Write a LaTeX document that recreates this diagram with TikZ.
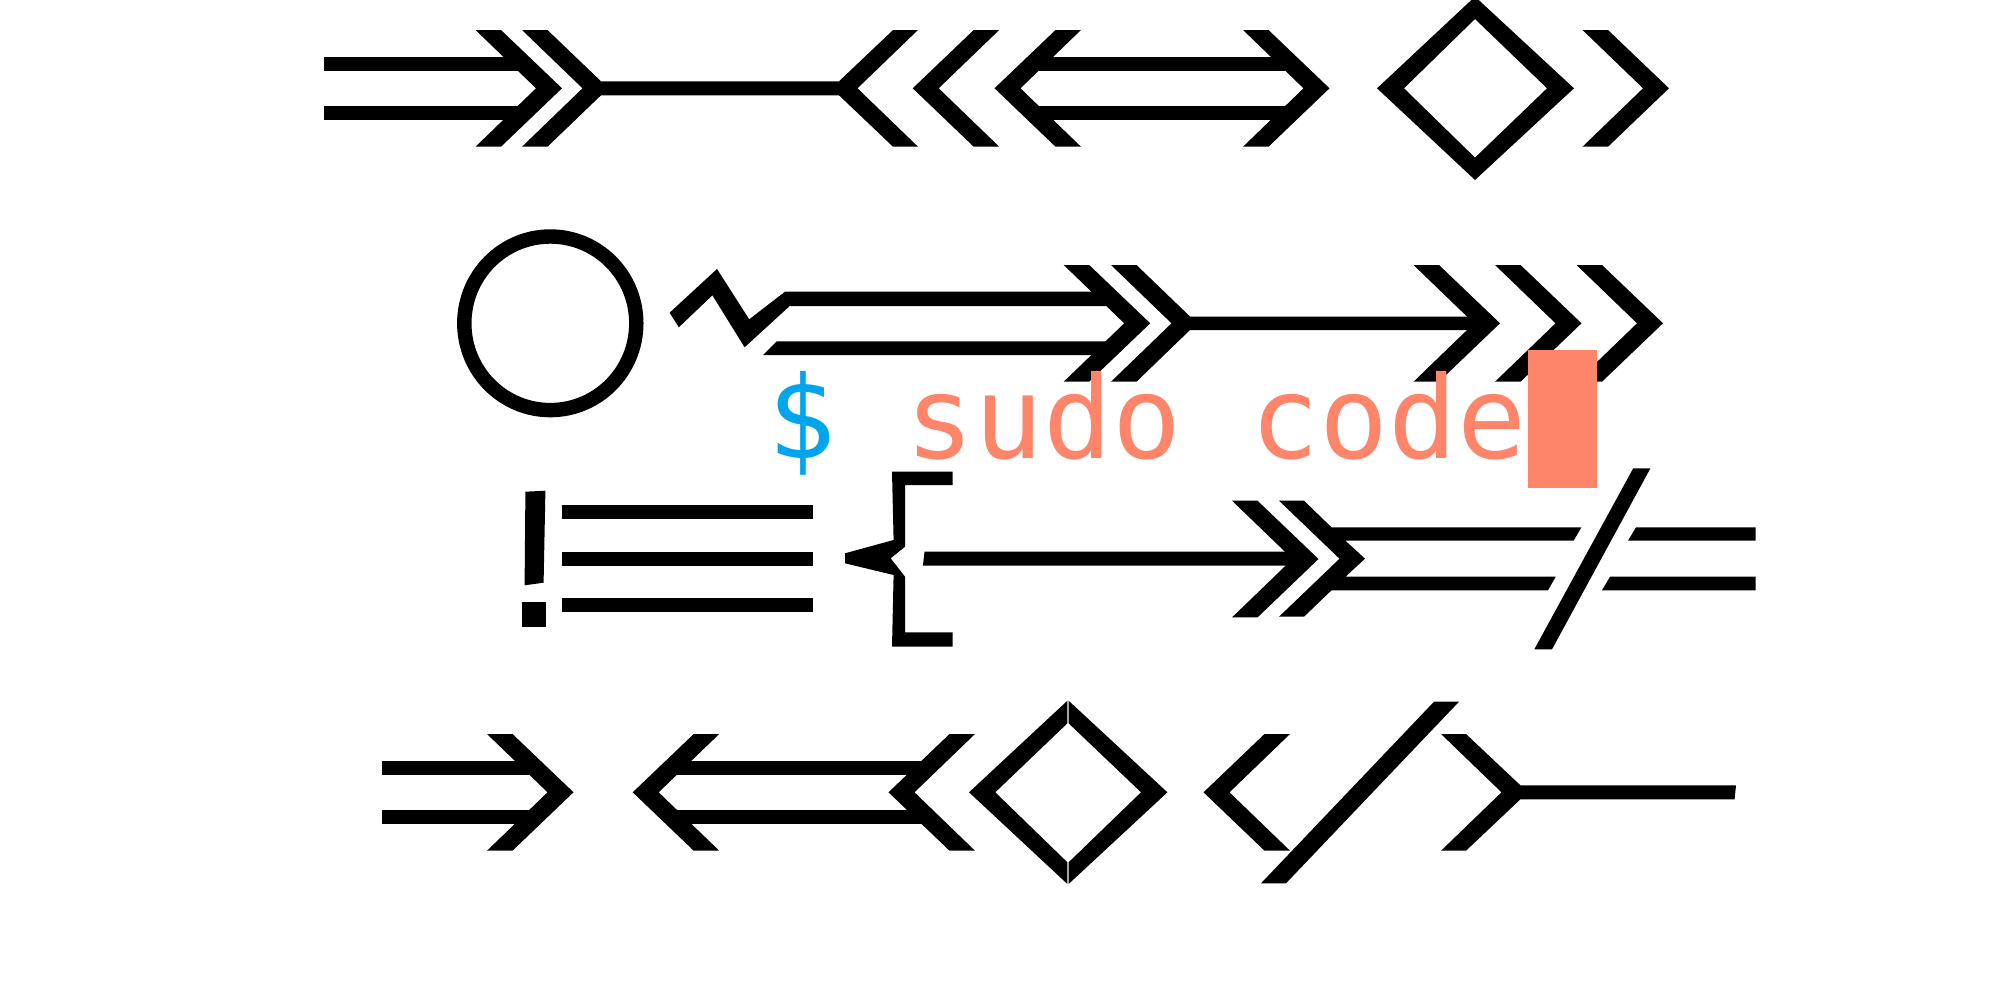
\documentclass[tikz,border=0pt]{standalone}
\usepackage{fontspec}
\usepackage{tikz}
\newfontfamily\promptfont{DejaVu Sans Mono}
\definecolor{promptblue}{RGB}{0,165,236}
\definecolor{cmdsalmon}{RGB}{255,133,106}
\tikzstyle{glyph} = [fill=black]
\tikzset{
  pics/rchev/.style={code={\fill (0,0) -- (25.5,0) -- (86.5,58.3) -- (25.5,116.7) -- (0,116.7) -- (60.5,58.3) -- cycle;}}
}
\begin{document}
\begin{tikzpicture}[x=0.01cm,y=-0.01cm]
	\useasboundingbox (0,0) rectangle (2000,1000);
	% row 1
	\fill[glyph] (324,57.3) rectangle (522,70.7);
	\fill[glyph] (324,106.3) rectangle (522,119.7);
	\pic at (475.5,30) {rchev};
	\fill[glyph] (522,30) -- (547.5,30) -- (601,81.3) -- (839,81.3) -- (893,30) -- (918,30) -- (857.5,88.3) -- (918,146.7) -- (893,146.7) -- (839,95.3) -- (601,95.3) -- (547.5,146.7) -- (522,146.7) -- (582.5,88.3) -- cycle;
	\pic[xscale=-1] at (999.2,30) {rchev};
	\pic[xscale=-1] at (1081,30) {rchev};
	\fill[glyph] (1035,57.3) rectangle (1290,70.7);
	\fill[glyph] (1035,106.3) rectangle (1290,119.7);
	\pic at (1243,30) {rchev};
	\fill[glyph,even odd rule] (1377,88.3) -- (1475,-3.4) -- (1574,88.3) -- (1475,180) -- cycle (1404,88.3) -- (1475,19) -- (1547,88.3) -- (1475,157.6) -- cycle;
	\pic at (1582.5,30) {rchev};
	% row 2
	\draw[line width=4.1pt] (550.3,323.3) ellipse [x radius=86, y radius=86.8];
	\fill[glyph] (669.6,312.7) -- (717,269) -- (749.2,319.3) -- (785,291.7) -- (1110,291.7) -- (1110,306) -- (789.7,306) -- (744.6,347.3) -- (712.4,295.3) -- (678.8,327.3) -- cycle;
	\fill[glyph] (776.7,341.3) -- (1110,341.3) -- (1110,355) -- (763,355) -- cycle;
	\pic at (1063.7,265) {rchev};
	\fill[glyph] (1111,265) -- (1136.5,265) -- (1190,316.5) -- (1485,316.5) -- (1485,330) -- (1190,330) -- (1136.5,381.7) -- (1111,381.7) -- (1171.5,323.3) -- cycle;
	\pic at (1413.5,265) {rchev};
	\pic at (1495,265) {rchev};
	\pic at (1576.5,265) {rchev};
	\node[anchor=base west,inner sep=0pt,font=\promptfont\fontsize{32.6}{39}\selectfont] (cmdline) at (767,458.3) {\textcolor{promptblue}{\$} \textcolor{cmdsalmon}{sudo code}};
	\fill[cmdsalmon] (1528,350) rectangle (1597,488);
	% row 3
	\fill[glyph] (525.4,491.7) -- (545.4,490.7) -- (543.6,582.7) -- (524.6,585.3) -- cycle;
	\fill[glyph] (522,602.3) rectangle (546,626.7);
	\fill[glyph] (562,505) rectangle (813,519);
	\fill[glyph] (562,551.7) rectangle (813,565.7);
	\fill[glyph] (562,598.3) rectangle (813,612.3);
	\fill[glyph] (892,471.7) -- (952.5,471.7) -- (952.5,485) -- (905,485) -- (905,546.7) -- (890.7,558.3) -- (905,576.7) -- (905,632.3) -- (952.5,632.3) -- (952.5,646.7) -- (892,646.7) -- (893.6,575) -- (845,563.3) -- (845,553.3) -- (893.6,540) -- cycle;
	\fill[glyph] (924.5,551.7) -- (1303,551.7) -- (1303,565.7) -- (922.9,565.7) -- cycle;
	\pic at (1232,500.7) {rchev};
	\fill[glyph] (1279,500.7) -- (1304,500.7) -- (1331.5,527.3) -- (1581.4,527.3) -- (1573.6,540.7) -- (1345.5,540.7) -- (1365,558.7) -- (1345.5,576.7) -- (1555.7,576.7) -- (1548,590.3) -- (1331.5,590.3) -- (1304,616.7) -- (1279,616.7) -- (1339.5,558.7) -- cycle;
	\fill[glyph] (1633.2,468.3) -- (1650.4,468.3) -- (1552,649.3) -- (1534.3,649.3) -- cycle;
	\fill[glyph] (1636,527.3) -- (1755.7,527.3) -- (1755.7,540.7) -- (1628,540.7) -- cycle;
	\fill[glyph] (1610,576.7) -- (1755.7,576.7) -- (1755.7,590.3) -- (1602,590.3) -- cycle;
	% row 4
	\fill[glyph] (382,761) rectangle (535,775);
	\fill[glyph] (382,810) rectangle (535,824);
	\pic at (487,734) {rchev};
	\pic[xscale=-1] at (719.2,734) {rchev};
	\fill[glyph] (675,761) rectangle (930,775);
	\fill[glyph] (675,810) rectangle (930,824);
	\pic[xscale=-1] at (975,734) {rchev};
	\fill[glyph] (1067.4,700.7) -- (969,792.3) -- (1067.4,884) -- (1067.4,862.3) -- (995.3,792.3) -- (1067.4,723.3) -- cycle;
	\fill[glyph] (1068.6,700.7) -- (1167.4,792.3) -- (1068.6,884) -- (1068.6,862.3) -- (1141,792.3) -- (1068.6,723.3) -- cycle;
	\pic[xscale=-1] at (1290,734) {rchev};
	\fill[glyph] (1434,701.7) -- (1459,701.7) -- (1286,883.3) -- (1261,883.3) -- cycle;
	\fill[glyph] (1441,734) -- (1466,734) -- (1520.4,785.3) -- (1736,785.3) -- (1734.6,799.3) -- (1520.4,799.3) -- (1466,850.7) -- (1441,850.7) -- (1501.5,792.3) -- cycle;
\end{tikzpicture}
\end{document}
